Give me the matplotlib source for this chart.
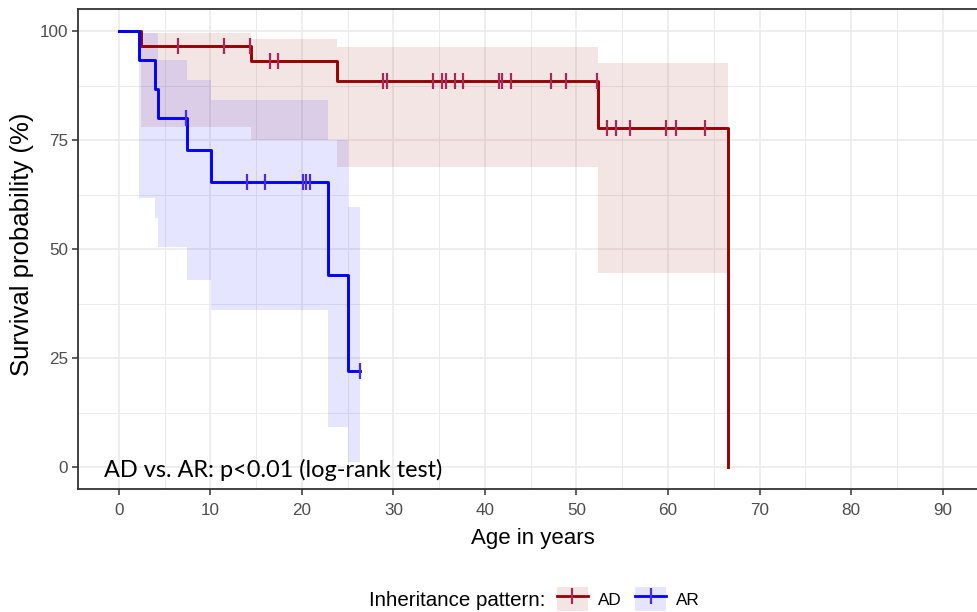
import numpy as np
import matplotlib
matplotlib.use("Agg")
import matplotlib.pyplot as plt
from matplotlib.lines import Line2D
from matplotlib.patches import Patch

# ---- data ----
ad_time = [0, 2.4, 14.4, 23.8, 52.35, 66.5]
ad_surv = [100, 96.6, 93.1, 88.6, 77.8, 0]
ad_ci_time = [2.4, 14.4, 23.8, 52.35, 66.5]
ad_ci_upper = [99.6, 98.2, 96.4, 92.6, 92.6]
ad_ci_lower = [78.1, 75.0, 68.9, 44.6, 44.6]
ad_censor = [6.5, 11.5, 14.3, 16.5, 17.4, 28.9, 29.3, 34.3, 35.3, 35.8, 36.7,
             37.6, 41.5, 41.9, 42.8, 47.2, 48.9, 52.2, 53.3, 54.3, 55.9, 59.8,
             60.9, 64.0]

ar_time = [0, 2.2, 4.0, 4.27, 7.5, 10.1, 22.9, 25.0, 26.3]
ar_surv = [100, 93.3, 86.7, 80.0, 72.7, 65.4, 44.0, 22.0, 22.0]
ar_ci_time = [2.2, 4.0, 4.27, 7.5, 10.1, 22.9, 25.0, 26.3]
ar_ci_upper = [99.6, 99.6, 93.3, 88.8, 84.2, 75.0, 59.7, 59.7]
ar_ci_lower = [61.7, 57.1, 50.5, 42.9, 36.0, 9.2, 1.2, 1.2]
ar_censor = [7.35, 14.0, 16.0, 20.1, 20.5, 20.9, 26.3]

groups = ["AD", "AR"]
x_ticks = list(range(0, 100, 10))
y_ticks = [0, 25, 50, 75, 100]

ad_color = "#990000"
ar_color = "#0000FF"
ad_mark = "#A8285A"
ar_mark = "#4A2AE8"

fig = plt.figure(figsize=(9.78, 6.12), dpi=100)
W, H = 978, 612
ax = fig.add_axes([77.6 / W, 1 - 489 / H, (988.4 - 77.6) / W, (489 - 9.3) / H])
ax.set_xlim(-4.5, 94.5)
ax.set_ylim(-5, 105)

# grid
ax.set_xticks(x_ticks)
ax.set_xticks([t + 5 for t in x_ticks], minor=True)
ax.set_yticks(y_ticks)
ax.set_yticks([12.5, 37.5, 62.5, 87.5], minor=True)
ax.grid(which="major", color="#EBEBEB", lw=1.2)
ax.grid(which="minor", color="#EBEBEB", lw=0.7)
ax.set_axisbelow(True)
for s in ax.spines.values():
    s.set_color("#333333")
    s.set_linewidth(1.3)
ax.tick_params(which="major", length=4, width=1.1, color="#333333",
               labelsize=12.3, labelcolor="#4D4D4D")
ax.tick_params(axis="x", which="major", pad=6)
ax.tick_params(axis="y", which="major", pad=3)
ax.tick_params(which="minor", length=0)
for lab in ax.get_xticklabels() + ax.get_yticklabels():
    lab.set_family("Liberation Sans")

# CI ribbons
ax.fill_between(ad_ci_time, ad_ci_lower, ad_ci_upper, step="post",
                color=ad_color, alpha=0.1, lw=0)
ax.fill_between(ar_ci_time, ar_ci_lower, ar_ci_upper, step="post",
                color=ar_color, alpha=0.1, lw=0)


def step_at(times, surv, t):
    idx = np.searchsorted(np.asarray(times), np.asarray(t), side="right") - 1
    return np.asarray(surv)[idx]


# curves
ax.step(ad_time, ad_surv, where="post", color=ad_color, lw=2.1, zorder=3)
ax.plot(ad_censor, step_at(ad_time, ad_surv, ad_censor), ls="none",
        marker="|", ms=12, mew=1.6, color=ad_mark, zorder=4)
ax.step(ar_time, ar_surv, where="post", color=ar_color, lw=2.1, zorder=3)
ax.plot(ar_censor, step_at(ar_time, ar_surv, ar_censor), ls="none",
        marker="|", ms=12, mew=1.6, color=ar_mark, zorder=4)

# annotation
ax.text(-1.63, -2.2, "AD vs. AR: p<0.01 (log-rank test)", fontsize=16.9,
        family=["Lato", "DejaVu Sans"], color="black", va="baseline", ha="left",
        zorder=5)

ax.set_xlabel("Age in years", fontsize=16, family="Liberation Sans",
              color="black", labelpad=7)
ax.set_ylabel("Survival probability (%)", fontsize=18.5,
              family="Liberation Sans", color="black")
ax.yaxis.set_label_coords((34 - 77.6) / 910.8, (489 - 244) / 479.7)

# legend
fig.text(545 / W, 1 - 601 / H, "Inheritance pattern:", fontsize=14.8,
         family="Liberation Sans", ha="right", va="center", color="black")
handles = [
    (Patch(facecolor=ad_color, alpha=0.1, lw=0),
     Line2D([], [], color=ad_color, lw=2, marker="|", ms=12, mew=1.6,
            markeredgecolor=ad_mark)),
    (Patch(facecolor=ar_color, alpha=0.1, lw=0),
     Line2D([], [], color=ar_color, lw=2, marker="|", ms=12, mew=1.6,
            markeredgecolor=ar_mark)),
]
leg = fig.legend(handles, groups, loc="center left",
                 bbox_to_anchor=(557 / W, 1 - 599 / H), ncol=2, frameon=False,
                 prop={"family": "Liberation Sans", "size": 12.3},
                 handlelength=1.8, handleheight=1.7, handletextpad=0.6,
                 columnspacing=0.8, borderpad=0, borderaxespad=0, numpoints=1)

fig.savefig("out.png", dpi=100)
